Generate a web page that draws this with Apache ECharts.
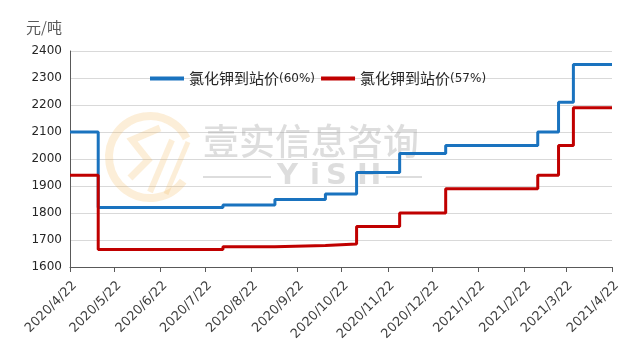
<!DOCTYPE html>
<html>
<head>
<meta charset="utf-8">
<script src="https://cdn.jsdelivr.net/npm/echarts@6/dist/echarts.min.js"></script>
<style>
html,body{margin:0;padding:0;background:#fff;}
#chart{width:636px;height:357px;}
</style>
</head>
<body>
<div id="chart"></div>
<script>
// ---- data ----
const tickLabels = ['2020/4/22','2020/5/22','2020/6/22','2020/7/22','2020/8/22','2020/9/22','2020/10/22','2020/11/22','2020/12/22','2021/1/22','2021/2/22','2021/3/22','2021/4/22'];
const yTicks = [1600, 2400, 100]; // min, max, step
const seriesNames = ['氯化钾到站价(60%)', '氯化钾到站价(57%)'];
// change dates (price takes effect on that date)
const blueDates  = ['2020/4/22','2020/5/11','2020/8/3','2020/9/7','2020/10/11','2020/11/1','2020/11/30','2020/12/31','2021/3/3','2021/3/17','2021/3/27','2021/4/22'];
const blueValues = [2100, 1820, 1830, 1850, 1870, 1950, 2020, 2050, 2100, 2210, 2350, 2350];
const redDates   = ['2020/4/22','2020/5/11','2020/8/3','2020/9/7','2020/10/11','2020/11/1','2020/11/30','2020/12/31','2021/3/3','2021/3/17','2021/3/27','2021/4/22'];
const redValues  = [1940, 1665, 1675, 1680, 1685, 1750, 1800, 1890, 1940, 2050, 2190, 2190];
const unitLabel = '元/吨';
const wmTitle = '壹实信息咨询';
const wmLetters = ['Y', 'i', 'S', 'H'];

// ---- helpers ----
function toTs(s){ const p = s.split('/').map(Number); return new Date(p[0], p[1]-1, p[2]).getTime(); }
function fmt(v){ const d = new Date(v); return d.getFullYear() + '/' + (d.getMonth()+1) + '/' + d.getDate(); }
const tickTs = tickLabels.map(toTs);
function pairs(dates, vals){ return dates.map((d,i) => [toTs(d), vals[i]]); }

const chart = echarts.init(document.getElementById('chart'));
const wm = 'rgba(160,160,160,0.36)';
const logo = 'rgba(243,185,90,0.24)';
const letterX = [277, 310, 326, 357];
chart.setOption({
  animation: false,
  backgroundColor: '#fff',
  textStyle: { fontFamily: '"Noto Sans CJK SC", "DejaVu Sans", sans-serif' },
  grid: { left: 70, right: 24, top: 51, bottom: 90, containLabel: false, outerBoundsMode: 'none' },
  legend: {
    left: 145, top: 66,
    itemWidth: 34, itemHeight: 4, itemGap: 6,
    icon: 'rect',
    data: seriesNames,
    formatter: function(name){ const i = name.indexOf('('); return '{c|' + name.slice(0,i) + '}{p|' + name.slice(i) + '}'; },
    textStyle: {
      color: '#262626',
      rich: {
        c: { fontSize: 15, color: '#262626', fontFamily: '"Noto Sans CJK SC", sans-serif' },
        p: { fontSize: 12, color: '#262626', fontFamily: '"DejaVu Sans", sans-serif' }
      }
    }
  },
  graphic: [
    { type: 'arc', z: 1, shape: { cx: 150, cy: 157, r: 41, startAngle: Math.PI*0.2, endAngle: Math.PI*1.85 }, style: { stroke: logo, lineWidth: 8, fill: null } },
    { type: 'polyline', z: 1, shape: { points: [[160,128],[132,140],[148,160],[130,178]] }, style: { stroke: logo, lineWidth: 7, fill: null } },
    { type: 'polyline', z: 1, shape: { points: [[172,140],[150,192]] }, style: { stroke: logo, lineWidth: 6, fill: null } },
    { type: 'polyline', z: 1, shape: { points: [[188,142],[166,194]] }, style: { stroke: logo, lineWidth: 5, fill: null } },
    { type: 'text', z: 1, x: 203, y: 123, style: { text: wmTitle, font: '500 36px "Noto Sans CJK SC"', fill: wm } },
    { type: 'text', z: 1, x: letterX[0], y: 162, style: { text: wmLetters[0], font: 'bold 29px "DejaVu Sans"', fill: wm } },
    { type: 'text', z: 1, x: letterX[1], y: 162, style: { text: wmLetters[1], font: 'bold 29px "DejaVu Sans"', fill: wm } },
    { type: 'text', z: 1, x: letterX[2], y: 162, style: { text: wmLetters[2], font: 'bold 29px "DejaVu Sans"', fill: wm } },
    { type: 'text', z: 1, x: letterX[3], y: 162, style: { text: wmLetters[3], font: 'bold 29px "DejaVu Sans"', fill: wm } },
    { type: 'line', z: 1, shape: { x1: 203, y1: 177, x2: 271, y2: 177 }, style: { stroke: wm, lineWidth: 2 } },
    { type: 'line', z: 1, shape: { x1: 386, y1: 177, x2: 422, y2: 177 }, style: { stroke: wm, lineWidth: 2 } }
  ],
  xAxis: {
    type: 'value',
    min: tickTs[0], max: tickTs[tickTs.length-1],
    axisLine: { show: true, onZero: false, lineStyle: { color: '#595959', width: 1 } },
    axisTick: { show: true, customValues: tickTs, length: 5, lineStyle: { color: '#595959' } },
    axisLabel: { customValues: tickTs, rotate: 45, formatter: function(v){ return fmt(v); }, fontSize: 13, color: '#404040', margin: 12, verticalAlign: 'top', fontFamily: '"DejaVu Sans", sans-serif', hideOverlap: false, showMinLabel: true, showMaxLabel: true },
    splitLine: { show: false }
  },
  yAxis: {
    type: 'value', min: yTicks[0], max: yTicks[1], interval: yTicks[2],
    name: unitLabel, nameLocation: 'end', nameGap: 16,
    nameTextStyle: { fontSize: 15, color: '#595959', align: 'right', verticalAlign: 'bottom', padding: [0, 8, 0, 0] },
    axisLine: { show: true, lineStyle: { color: '#595959', width: 1 } },
    axisTick: { show: false },
    axisLabel: { fontSize: 12, color: '#262626', margin: 8, fontFamily: '"DejaVu Sans", sans-serif', formatter: function(v){ return String(v); } },
    splitLine: { show: true, lineStyle: { color: '#d9d9d9', width: 1 } }
  },
  series: [
    { name: seriesNames[0], type: 'line', step: 'end', symbol: 'none', data: pairs(blueDates, blueValues), itemStyle: { color: '#1a73bf' }, lineStyle: { color: '#1a73bf', width: 3 }, z: 3 },
    { name: seriesNames[1], type: 'line', step: 'end', symbol: 'none', data: pairs(redDates, redValues), itemStyle: { color: '#c00000' }, lineStyle: { color: '#c00000', width: 3 }, z: 3 }
  ]
});
</script>
</body>
</html>
